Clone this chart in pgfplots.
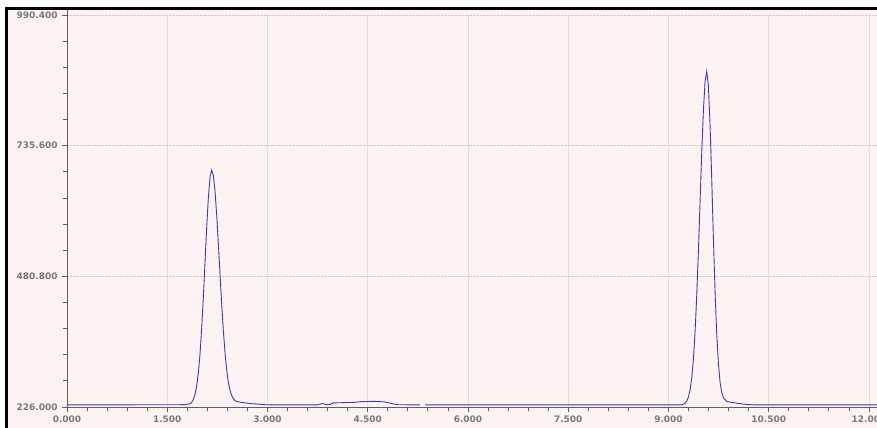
\documentclass[border=0pt]{standalone}
\usepackage{pgfplots}
\pgfplotsset{compat=1.18}
\usepackage{fontspec}
\setmainfont{DejaVu Sans}

\definecolor{bgpink}{RGB}{252,243,242}
\definecolor{trace}{RGB}{60,60,175}
\definecolor{axisgray}{RGB}{95,95,95}
\definecolor{labelgray}{RGB}{120,120,120}

\begin{document}
\begin{tikzpicture}
\useasboundingbox (0,0) rectangle (877bp,428bp);
\fill[white] (0,0) rectangle (877bp,428bp);
\fill[bgpink] (8bp,0) rectangle (877bp,419bp);
\fill[black] (5bp,0) rectangle (8bp,421bp);
\fill[black] (5bp,418bp) rectangle (877bp,421bp);
\draw[axisgray, line width=1bp] (67bp,405bp) -- (67bp,418bp);

\begin{axis}[
	at={(67bp,21bp)}, anchor=south west,
	scale only axis,
	width=810bp, height=392bp,
	xmin=0, xmax=12.12,
	ymin=226, ymax=990.4,
	axis lines=left,
	axis line style={-, axisgray, line width=1bp},
	xtick={0,1.5,3,4.5,6,7.5,9,10.5,12},
	ytick={226,480.8,735.6,990.4},
	minor tick num=4,
	tick align=outside,
	major tick length=5bp,
	minor tick length=4bp,
	tick style={axisgray, line width=0.8bp},
	grid=major,
	x grid style={black!12, line width=0.8bp},
	y grid style={black!20, densely dotted, line width=0.8bp},
	ticklabel style={font=\fontsize{9}{10}\selectfont\bfseries, text=labelgray},
	/pgf/number format/assume math mode=true,
	/pgf/number format/fixed,
	/pgf/number format/fixed zerofill,
	/pgf/number format/precision=3,
	/pgf/number format/1000 sep={},
	xticklabel style={yshift=0bp},
	yticklabel style={xshift=-1bp},
	unbounded coords=jump,
	clip=false,
]
\addplot[trace, line width=0.9bp] coordinates {
	(0,230) (1.75,230.5) (1.84,232.3) (1.865,235.0) (1.89,240.4) (1.915,250.2)
	(1.94,266.5) (1.965,291.8) (1.99,328.9) (2.015,378.9) (2.04,439.8)
	(2.065,508.0) (2.09,575.8) (2.115,634.0) (2.14,673.8) (2.165,688)
	(2.19,677.5) (2.215,646.8) (2.24,600.1) (2.265,543.7) (2.29,483.7)
	(2.315,425.6) (2.34,373.8) (2.365,330.8) (2.39,297.6) (2.415,273.1)
	(2.44,258) (2.465,248) (2.49,242) (2.515,238) (2.565,236) (2.615,235)
	(2.665,234) (2.765,232.5) (2.865,231.5) (2.965,230.5) (3.1,230)
	(3.75,230) (3.82,233) (3.87,230.5) (3.94,231) (3.98,234) (4.3,235)
	(4.4,236.5) (4.6,237) (4.75,236) (4.85,233) (4.94,230.5) (5.28,230)
	(5.3,nan)
	(5.36,230) (9.2,230) (9.247,233.3) (9.272,237.2) (9.297,244.8)
	(9.322,258.6) (9.347,281.7) (9.372,317.8) (9.397,370.4) (9.422,441.3)
	(9.447,527.7) (9.472,624.6) (9.497,720.8) (9.522,803.3) (9.547,859.9)
	(9.572,880) (9.597,852.7) (9.622,776.7) (9.647,670.7) (9.672,555.4)
	(9.697,450.4) (9.722,367.2) (9.747,311) (9.772,274) (9.797,254)
	(9.822,244) (9.872,237) (9.922,235.5) (9.972,234.5) (10.072,232.5)
	(10.172,231) (10.3,230) (12.12,230)
};
\end{axis}
\end{tikzpicture}
\end{document}
